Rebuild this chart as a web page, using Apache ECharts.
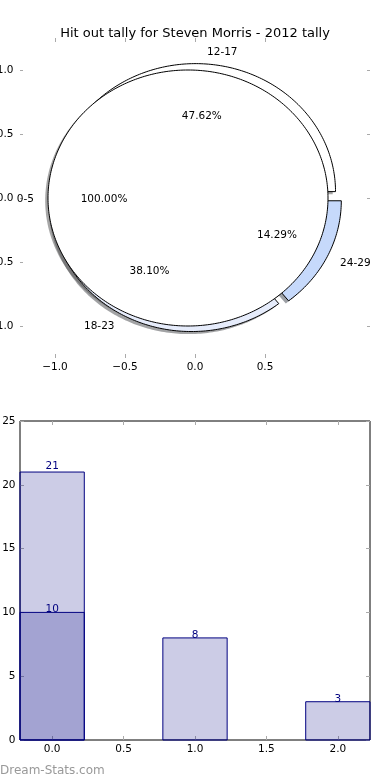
<!DOCTYPE html>
<html>
<head>
<meta charset="utf-8">
<script src="https://cdn.jsdelivr.net/npm/echarts@6/dist/echarts.min.js"></script>
<style>
html,body{margin:0;padding:0;background:#fff;}
#chart{width:390px;height:780px;}
</style>
</head>
<body>
<div id="chart"></div>
<script>
// ---- data ----
const titleText = 'Hit out tally for Steven Morris - 2012 tally';
const pieLabels = ['12-17', '18-23', '24-29'];
const pieValues = [10, 8, 3];
const fullLabels = ['0-5'];
const fullValues = [21];
const pieTicksX = [-1.0, -0.5, 0.0, 0.5];
const pieTicksY = [-1.0, -0.5, 0.0, 0.5, 1.0];
const barX = [0, 1, 2];
const totalValues = [21, 8, 3];
const subX = [0];
const subValues = [10];
const barTicksX = [0, 0.5, 1.0, 1.5, 2.0];
const watermark = 'Dream-Stats.com';

// ---- style ----
const FONT = 'DejaVu Sans';
const pieColors = ['#ffffff', '#e6ecfb', '#c6d9fb'];
const fullColors = ['#ffffff'];
const EXPLODE = 0.05;
const BAR_W = 0.45;
const NAVY = '#000080';
const TICK = '#aaaaaa';

function buildWedges(values, labels, colors) {
  const total = values.reduce((a, b) => a + b, 0);
  let acc = 0;
  return values.map((v, i) => {
    const t1 = acc / total * 360;
    acc += v;
    const t2 = acc / total * 360;
    const mid = (t1 + t2) / 2 * Math.PI / 180;
    return {
      t1, t2,
      dx: EXPLODE * Math.cos(mid), dy: EXPLODE * Math.sin(mid),
      mid, color: colors[i], label: labels[i],
      pct: (v / total * 100).toFixed(2) + '%',
      full: (t2 - t1) >= 359.999
    };
  });
}
const wedges1 = buildWedges(pieValues, pieLabels, pieColors);
const wedges2 = buildWedges(fullValues, fullLabels, fullColors);
const allW = wedges1.concat(wedges2);
// drawing order like matplotlib: all shadows, then wedges, then texts
const shapes = [];
allW.forEach(w => shapes.push({kind: 'shadow', w}));
allW.forEach(w => shapes.push({kind: 'wedge', w}));
allW.forEach(w => shapes.push({kind: 'text', w}));

function shade(hex) {
  const r = parseInt(hex.substr(1, 2), 16) * 0.3;
  const g = parseInt(hex.substr(3, 2), 16) * 0.3;
  const b = parseInt(hex.substr(5, 2), 16) * 0.3;
  return 'rgba(' + Math.round(r) + ',' + Math.round(g) + ',' + Math.round(b) + ',0.5)';
}

function wedgePoints(api, w, ox, oy) {
  const pts = [];
  const cx = w.dx + ox, cy = w.dy + oy;
  if (!w.full) pts.push(api.coord([cx, cy]));
  const n = Math.max(2, Math.ceil((w.t2 - w.t1) / 1));
  for (let k = 0; k <= n; k++) {
    const a = (w.t1 + (w.t2 - w.t1) * k / n) * Math.PI / 180;
    pts.push(api.coord([cx + Math.cos(a), cy + Math.sin(a)]));
  }
  return pts;
}

function pieRender(params, api) {
  const s = shapes[params.dataIndex];
  const w = s.w;
  if (s.kind === 'shadow') {
    return {type: 'polygon', shape: {points: wedgePoints(api, w, -0.02, -0.02)},
      style: {fill: shade(w.color), stroke: null}};
  }
  if (s.kind === 'wedge') {
    return {type: 'polygon', shape: {points: wedgePoints(api, w, 0, 0)},
      style: {fill: w.color, stroke: '#000', lineWidth: 1}};
  }
  const lx = w.dx + 1.1 * Math.cos(w.mid), ly = w.dy + 1.1 * Math.sin(w.mid);
  const px = w.dx + 0.6 * Math.cos(w.mid), py = w.dy + 0.6 * Math.sin(w.mid);
  const lp = api.coord([lx, ly]);
  const pp = api.coord([px, py]);
  return {type: 'group', children: [
    {type: 'text', x: lp[0], y: lp[1] + 1, style: {text: w.label, fill: '#000',
      font: '10.5px "' + FONT + '"', align: lx > 0 ? 'left' : 'right', verticalAlign: 'middle'}},
    {type: 'text', x: pp[0], y: pp[1] + 1, style: {text: w.pct, fill: '#000',
      font: '10.5px "' + FONT + '"', align: 'center', verticalAlign: 'middle'}}
  ]};
}

function barRenderer(xs, vals, withLabel) {
  return function (params, api) {
    const i = params.dataIndex;
    const x = xs[i], v = vals[i];
    const p0 = api.coord([x - BAR_W / 2, v]);
    const p1 = api.coord([x + BAR_W / 2, 0]);
    const children = [{type: 'rect',
      shape: {x: p0[0], y: p0[1], width: p1[0] - p0[0], height: p1[1] - p0[1]},
      style: {fill: 'rgba(0,0,128,0.2)', stroke: NAVY, lineWidth: 1}}];
    if (withLabel) {
      const lp = api.coord([x, v * 1.015]);
      children.push({type: 'text', x: lp[0], y: lp[1] + 4,
        style: {text: String(v), fill: NAVY, font: '10.5px "' + FONT + '"',
          align: 'center', verticalAlign: 'bottom'}});
    }
    return {type: 'group', children};
  };
}

const fmt1 = v => (v < 0 ? '\u2212' : '') + Math.abs(v).toFixed(1);
const lbl = {color: '#000', fontSize: 10.5, fontFamily: FONT};
const tick = (len) => ({show: true, inside: true, length: len, lineStyle: {color: TICK, width: 1}});
const noLine = {show: false, onZero: false};

const chart = echarts.init(document.getElementById('chart'), null, {renderer: 'canvas'});
chart.setOption({
  animation: false,
  backgroundColor: '#fff',
  title: {text: titleText, left: 'center', top: 22,
    textStyle: {fontFamily: FONT, fontSize: 13, fontWeight: 'normal', color: '#000'}},
  grid: [
    {left: 20, top: 38, width: 350, height: 320, show: false, containLabel: false, outerBoundsMode: 'none'},
    {left: 20, top: 421, width: 350, height: 319, show: true, borderColor: '#000', borderWidth: 1,
      backgroundColor: 'transparent', containLabel: false, outerBoundsMode: 'none'}
  ],
  xAxis: [
    {gridIndex: 0, type: 'value', min: -1.25, max: 1.25, position: 'bottom',
      axisLine: noLine, splitLine: {show: false},
      axisTick: Object.assign(tick(4), {customValues: pieTicksX}),
      axisLabel: Object.assign({}, lbl, {margin: 4, customValues: pieTicksX, formatter: fmt1})},
    {gridIndex: 0, type: 'value', min: -1.25, max: 1.25, position: 'top',
      axisLine: noLine, splitLine: {show: false},
      axisTick: Object.assign(tick(4), {customValues: pieTicksX}),
      axisLabel: {show: false}},
    {gridIndex: 1, type: 'value', min: -BAR_W / 2, max: 2 + BAR_W / 2, position: 'bottom',
      axisLine: noLine, splitLine: {show: false},
      axisTick: Object.assign(tick(4), {customValues: barTicksX}),
      axisLabel: Object.assign({}, lbl, {margin: 4, customValues: barTicksX, formatter: fmt1})},
    {gridIndex: 1, type: 'value', min: -BAR_W / 2, max: 2 + BAR_W / 2, position: 'top',
      axisLine: noLine, splitLine: {show: false},
      axisTick: Object.assign(tick(4), {customValues: barTicksX}),
      axisLabel: {show: false}}
  ],
  yAxis: [
    {gridIndex: 0, type: 'value', min: -1.25, max: 1.25, position: 'left',
      axisLine: noLine, splitLine: {show: false},
      axisTick: Object.assign(tick(3), {customValues: pieTicksY}),
      axisLabel: Object.assign({}, lbl, {margin: 6.5, customValues: pieTicksY, formatter: fmt1})},
    {gridIndex: 0, type: 'value', min: -1.25, max: 1.25, position: 'right',
      axisLine: noLine, splitLine: {show: false},
      axisTick: Object.assign(tick(3), {customValues: pieTicksY}),
      axisLabel: {show: false}},
    {gridIndex: 1, type: 'value', min: 0, max: 25, interval: 5, position: 'left',
      axisLine: noLine, splitLine: {show: false},
      axisTick: tick(4),
      axisLabel: Object.assign({}, lbl, {margin: 4.5})},
    {gridIndex: 1, type: 'value', min: 0, max: 25, interval: 5, position: 'right',
      axisLine: noLine, splitLine: {show: false},
      axisTick: tick(4),
      axisLabel: {show: false}}
  ],
  series: [
    {type: 'custom', xAxisIndex: 0, yAxisIndex: 0, renderItem: pieRender,
      data: shapes.map((s, i) => [0, 0]), silent: true, z: 2},
    {type: 'custom', xAxisIndex: 2, yAxisIndex: 2, renderItem: barRenderer(barX, totalValues, true),
      data: barX.map((x, i) => [x, totalValues[i]]), silent: true, z: 2},
    {type: 'custom', xAxisIndex: 2, yAxisIndex: 2, renderItem: barRenderer(subX, subValues, true),
      data: subX.map((x, i) => [x, subValues[i]]), silent: true, z: 3}
  ],
  graphic: [
    {type: 'text', left: 0, top: 765, style: {text: watermark, fill: '#999999', font: '12px "' + FONT + '"'}}
  ]
});
</script>
</body>
</html>
